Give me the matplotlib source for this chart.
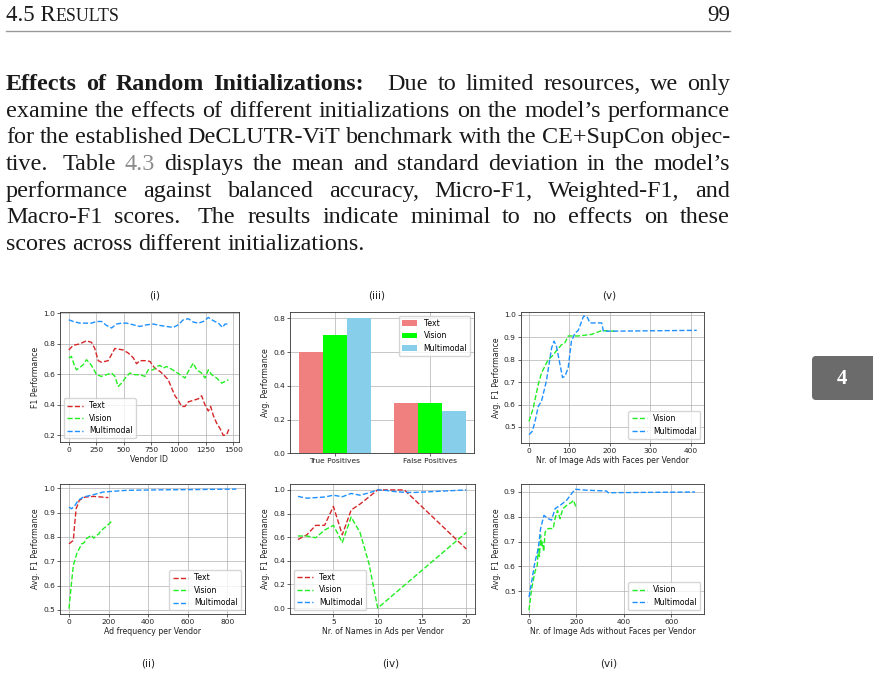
import matplotlib
matplotlib.use('Agg')
import matplotlib.pyplot as plt
from matplotlib.patches import FancyBboxPatch

# ---------------- data ----------------
# (i) F1 per vendor ID
vid_text_x = [0, 40, 100, 160, 207, 237, 268, 298, 359, 420, 496, 542, 587, 618, 648, 700, 740, 785, 831, 861,
              907, 938, 968, 998, 1029, 1059, 1090, 1135, 1181, 1211, 1242, 1272, 1293, 1318, 1348, 1379, 1409, 1440, 1464]
vid_text_y = [0.76, 0.79, 0.80, 0.82, 0.81, 0.77, 0.69, 0.68, 0.69, 0.77, 0.76, 0.74, 0.71, 0.67, 0.69, 0.69, 0.685, 0.64, 0.62, 0.60,
              0.565, 0.51, 0.46, 0.43, 0.39, 0.39, 0.42, 0.43, 0.44, 0.46, 0.40, 0.36, 0.39, 0.33, 0.28, 0.245, 0.20, 0.205, 0.25]
vid_vis_x = [0, 24, 55, 70, 100, 131, 161, 192, 222, 253, 298, 344, 390, 420, 451, 481, 527, 557, 603, 648,
             694, 724, 770, 800, 831, 861, 892, 922, 968, 1014, 1059, 1090, 1135, 1166, 1211, 1242, 1272, 1303, 1348, 1394, 1425, 1455]
vid_vis_y = [0.707, 0.718, 0.652, 0.63, 0.645, 0.663, 0.696, 0.674, 0.641, 0.598, 0.587, 0.598, 0.609, 0.587, 0.521, 0.543, 0.587, 0.609, 0.598, 0.598,
             0.587, 0.63, 0.63, 0.652, 0.659, 0.641, 0.652, 0.641, 0.62, 0.598, 0.576, 0.62, 0.674, 0.63, 0.609, 0.576, 0.63, 0.598, 0.576, 0.543, 0.554, 0.565]
vid_mm_x = [0, 40, 100, 161, 207, 253, 298, 344, 390, 435, 481, 527, 588, 648, 709, 770, 831, 892, 953, 998,
            1044, 1090, 1135, 1181, 1227, 1272, 1318, 1364, 1400, 1425, 1460]
vid_mm_y = [0.958, 0.947, 0.936, 0.936, 0.936, 0.947, 0.947, 0.921, 0.904, 0.93, 0.936, 0.936, 0.925, 0.914, 0.925, 0.93, 0.921, 0.914, 0.908, 0.925,
            0.958, 0.965, 0.943, 0.936, 0.947, 0.973, 0.952, 0.936, 0.908, 0.93, 0.93]

# (ii) ad frequency per vendor
adf_text_x = [0, 22, 28, 36, 52, 80, 123, 199]
adf_text_y = [0.772, 0.786, 0.848, 0.916, 0.951, 0.964, 0.967, 0.962]
adf_vis_x = [0, 13, 22, 39, 64, 75, 88, 100, 114, 125, 139, 150, 156, 173, 190, 215]
adf_vis_y = [0.505, 0.615, 0.683, 0.731, 0.772, 0.775, 0.793, 0.80, 0.807, 0.795, 0.807, 0.812, 0.82, 0.834, 0.845, 0.864]
adf_mm_x = [0, 13, 30, 47, 72, 123, 173, 291, 460, 628, 845]
adf_mm_y = [0.923, 0.916, 0.930, 0.951, 0.964, 0.974, 0.985, 0.992, 0.994, 0.995, 0.997]

# (iii) bar chart
bar_cats = ["True Positives", "False Positives"]
bar_text = [0.6, 0.3]
bar_vis = [0.7, 0.3]
bar_mm = [0.8, 0.25]

# (iv) number of names
nm_text_x = [1, 2, 3, 4, 5, 6, 7, 8, 9, 10, 11, 12, 13, 20]
nm_text_y = [0.58, 0.62, 0.70, 0.70, 0.86, 0.62, 0.83, 0.88, 0.94, 1.0, 1.0, 1.0, 1.0, 0.5]
nm_vis_x = [1, 2, 3, 4, 5, 6, 7, 8, 9, 10, 20]
nm_vis_y = [0.61, 0.61, 0.595, 0.66, 0.70, 0.555, 0.77, 0.64, 0.38, 0.0, 0.64]
nm_mm_x = [1, 2, 3, 4, 5, 6, 7, 8, 9, 10, 11, 12, 13, 14, 16, 20]
nm_mm_y = [0.945, 0.93, 0.935, 0.94, 0.955, 0.942, 0.97, 0.955, 0.975, 1.0, 0.995, 0.985, 0.98, 0.978, 0.985, 1.0]

# (v) image ads with faces
fc_vis_x = [0, 10, 23, 31, 43, 48, 60, 68, 80, 89, 97, 105, 122, 155, 180, 213]
fc_vis_y = [0.525, 0.58, 0.69, 0.74, 0.784, 0.80, 0.82, 0.84, 0.865, 0.875, 0.905, 0.905, 0.905, 0.912, 0.929, 0.926]
fc_mm_x = [0, 8, 15, 23, 31, 43, 56, 62, 68, 83, 89, 97, 105, 114, 122, 135, 143, 151, 180, 184, 415]
fc_mm_y = [0.466, 0.48, 0.525, 0.592, 0.615, 0.704, 0.852, 0.882, 0.859, 0.72, 0.726, 0.763, 0.882, 0.918, 0.93, 0.993, 0.993, 0.963, 0.963, 0.926, 0.93]

# (vi) image ads without faces
nf_vis_x = [0, 11, 25, 35, 39, 44, 49, 53, 57, 62, 68, 81, 102, 110, 120, 131, 143, 159, 180, 187, 201]
nf_vis_y = [0.424, 0.51, 0.578, 0.605, 0.671, 0.64, 0.725, 0.68, 0.698, 0.66, 0.738, 0.752, 0.752, 0.792, 0.825, 0.792, 0.832, 0.845, 0.858, 0.866, 0.832]
nf_mm_x = [0, 11, 25, 39, 49, 63, 81, 95, 110, 131, 159, 194, 243, 327, 334, 700]
nf_mm_y = [0.477, 0.538, 0.618, 0.671, 0.752, 0.805, 0.792, 0.786, 0.832, 0.845, 0.866, 0.91, 0.906, 0.903, 0.896, 0.899]

C_TEXT = '#d62728'
C_VIS = '#22ee22'
C_MM = '#1e90ff'

# ---------------- figure ----------------
W, H = 873, 676
fig = plt.figure(figsize=(W / 100, H / 100), dpi=100)
plt.rcParams['font.family'] = 'DejaVu Sans'

FS_TICK = 5.4
FS_LAB = 5.6
FS_LEG = 5.6


def add_ax(x0, y0, x1, y1):
    return fig.add_axes([x0 / W, 1 - y1 / H, (x1 - x0) / W, (y1 - y0) / H])


def style(ax, xlabel=None, ylabel=None):
    ax.grid(True, color='#b0b0b0', lw=0.5)
    ax.tick_params(labelsize=FS_TICK, length=2, width=0.5, pad=1.5, colors='#222222')
    for s in ax.spines.values():
        s.set_linewidth(0.6)
        s.set_color('#333333')
    if xlabel:
        ax.set_xlabel(xlabel, fontsize=FS_LAB, labelpad=1.5, color='#222222')
    if ylabel:
        ax.set_ylabel(ylabel, fontsize=FS_LAB, labelpad=2, color='#222222')


def lines(ax, series, loc):
    for x, y, c, lab in series:
        ax.plot(x, y, ls='--', lw=1.0, color=c, label=lab)
    ax.legend(loc=loc, fontsize=FS_LEG, handlelength=2.0, borderpad=0.4, labelspacing=0.45)


# (i)
ax1 = add_ax(60, 312.3, 238.7, 442.3)
lines(ax1, [(vid_text_x, vid_text_y, C_TEXT, 'Text'), (vid_vis_x, vid_vis_y, C_VIS, 'Vision'),
            (vid_mm_x, vid_mm_y, C_MM, 'Multimodal')], 'lower left')
ax1.set_xlim(-80, 1549)
ax1.set_ylim(0.155, 1.007)
ax1.set_xticks([0, 250, 500, 750, 1000, 1250, 1500])
ax1.set_yticks([0.2, 0.4, 0.6, 0.8, 1.0])
style(ax1, 'Vendor ID', 'F1 Performance')

# (iii)
ax3 = add_ax(290, 311.7, 474.3, 453.3)
pos = list(range(len(bar_cats)))
bw = 0.25
ax3.bar([p - bw for p in pos], bar_text, bw, color='#f08080', label='Text')
ax3.bar(pos, bar_vis, bw, color='#00ff00', label='Vision')
ax3.bar([p + bw for p in pos], bar_mm, bw, color='#87ceeb', label='Multimodal')
ax3.set_axisbelow(True)
ax3.set_xticks(pos)
ax3.set_xticklabels(bar_cats)
ax3.set_xlim(-0.474, 1.467)
ax3.set_ylim(0, 0.84)
ax3.set_yticks([0.0, 0.2, 0.4, 0.6, 0.8])
ax3.legend(loc='upper right', fontsize=FS_LEG, borderpad=0.4, labelspacing=0.45)
style(ax3, None, 'Avg. Performance')

# (v)
ax5 = add_ax(520.7, 311.7, 704, 442.7)
lines(ax5, [(fc_vis_x, fc_vis_y, C_VIS, 'Vision'), (fc_mm_x, fc_mm_y, C_MM, 'Multimodal')], 'lower right')
ax5.set_xlim(-20.5, 433)
ax5.set_ylim(0.43, 1.013)
ax5.set_xticks([0, 100, 200, 300, 400])
ax5.set_yticks([0.5, 0.6, 0.7, 0.8, 0.9, 1.0])
style(ax5, 'Nr. of Image Ads with Faces per Vendor', 'Avg. F1 Performance')

# (ii)
ax2 = add_ax(60, 484, 245, 614.3)
lines(ax2, [(adf_text_x, adf_text_y, C_TEXT, 'Text'), (adf_vis_x, adf_vis_y, C_VIS, 'Vision'),
            (adf_mm_x, adf_mm_y, C_MM, 'Multimodal')], 'lower right')
ax2.set_xlim(-45.5, 889)
ax2.set_ylim(0.482, 1.018)
ax2.set_xticks([0, 200, 400, 600, 800])
ax2.set_yticks([0.5, 0.6, 0.7, 0.8, 0.9, 1.0])
style(ax2, 'Ad frequency per Vendor', 'Avg. F1 Performance')

# (iv)
ax4 = add_ax(290, 484, 475, 614)
lines(ax4, [(nm_text_x, nm_text_y, C_TEXT, 'Text'), (nm_vis_x, nm_vis_y, C_VIS, 'Vision'),
            (nm_mm_x, nm_mm_y, C_MM, 'Multimodal')], 'lower left')
ax4.set_xlim(0.1, 20.98)
ax4.set_ylim(-0.05, 1.05)
ax4.set_xticks([5, 10, 15, 20])
ax4.set_yticks([0.0, 0.2, 0.4, 0.6, 0.8, 1.0])
style(ax4, 'Nr. of Names in Ads per Vendor', 'Avg. F1 Performance')

# (vi)
ax6 = add_ax(520.7, 484, 704, 614)
lines(ax6, [(nf_vis_x, nf_vis_y, C_VIS, 'Vision'), (nf_mm_x, nf_mm_y, C_MM, 'Multimodal')], 'lower right')
ax6.set_xlim(-35, 738)
ax6.set_ylim(0.409, 0.931)
ax6.set_xticks([0, 200, 400, 600])
ax6.set_yticks([0.5, 0.6, 0.7, 0.8, 0.9])
style(ax6, 'Nr. of Image Ads without Faces per Vendor', 'Avg. F1 Performance')

# ---------------- page overlay (text) ----------------
ov = fig.add_axes([0, 0, 1, 1])
ov.set_xlim(0, W)
ov.set_ylim(H, 0)
ov.axis('off')
ov.patch.set_alpha(0)

for s, x, y in [('(i)', 155, 296), ('(iii)', 377, 296), ('(v)', 609, 296),
                ('(ii)', 148, 663), ('(iv)', 391, 663), ('(vi)', 609, 663)]:
    ov.text(x, y, s, fontsize=7.5, ha='center', va='center', color='#222222')

renderer = fig.canvas.get_renderer()
SERIF = 'Liberation Serif'


def measure(s, fs, **kw):
    t = ov.text(0, 0, s, fontsize=fs, family=SERIF, **kw)
    w = t.get_window_extent(renderer).width
    t.remove()
    return w


BOLD = {'fontweight': 'bold'}
GRAY = {'color': '#8c8c8c'}
para = [
    [(w, BOLD) for w in "Effects of Random Initializations:".split()] +
    [(w, {}) for w in "Due to limited resources, we only".split()],
    [(w, {}) for w in "examine the effects of different initializations on the model\u2019s performance".split()],
    [(w, {}) for w in "for the established DeCLUTR-ViT benchmark with the CE+SupCon objec-".split()],
    [("tive.", {}), ("Table", {}), ("4.3", GRAY)] +
    [(w, {}) for w in "displays the mean and standard deviation in the model\u2019s".split()],
    [(w, {}) for w in "performance against balanced accuracy, Micro-F1, Weighted-F1, and".split()],
    [(w, {}) for w in "Macro-F1 scores. The results indicate minimal to no effects on these".split()],
    [(w, {}) for w in "scores across different initializations.".split()],
]

X0, X1 = 6, 730
base = 14.0


def natural_width(tokens, fs):
    sp = 0.25 * fs * 100 / 72
    return sum(measure(s, fs, **kw) for s, kw in tokens) + sp * (len(tokens) - 1)


scale = 367 / natural_width(para[6], base)
scale = min(scale, (X1 - X0 - 6) / natural_width(para[1], base))
FS = base * scale


def gap_weight(tok):
    if tok.endswith(':'):
        return 2.6
    if tok.endswith('.') and tok != '4.3':
        return 1.5
    return 1.0


baselines = [90, 116.7, 143.3, 170, 196.7, 223.3, 250]
for i, (tokens, yb) in enumerate(zip(para, baselines)):
    widths = [measure(s, FS, **kw) for s, kw in tokens]
    weights = [gap_weight(s) for s, _ in tokens[:-1]]
    if i < len(para) - 1:
        unit = (X1 - X0 - sum(widths)) / sum(weights)
    else:
        unit = 0.25 * FS * 100 / 72
    x = X0
    for j, ((s, kw), w) in enumerate(zip(tokens, widths)):
        kw2 = dict(kw)
        col = kw2.pop('color', '#1a1a1a')
        ov.text(x, yb, s, fontsize=FS, family=SERIF, va='baseline', ha='left', color=col, **kw2)
        if j < len(weights):
            x += w + weights[j] * unit

# header
HFS = FS * 0.95
ov.text(X0, 21, '4.5 R', fontsize=HFS, family=SERIF, va='baseline', ha='left', color='#1a1a1a')
wR = measure('4.5 R', HFS)
ov.text(X0 + wR, 21, 'ESULTS', fontsize=HFS * 0.78, family=SERIF, va='baseline', ha='left', color='#1a1a1a')
ov.text(X1, 21, '99', fontsize=HFS, family=SERIF, va='baseline', ha='right', color='#1a1a1a')
ov.plot([X0, X1], [30.5, 30.5], color='#9a9a9a', lw=1.0)

# chapter tab
ov.add_patch(FancyBboxPatch((812, 356), 80, 44, boxstyle='round,pad=0,rounding_size=4',
                            facecolor='#6b6b6b', edgecolor='none'))
ov.text(842, 379, '4', fontsize=15, family=SERIF, fontweight='bold', color='white', ha='center', va='center')

fig.savefig('out.png', dpi=100)
